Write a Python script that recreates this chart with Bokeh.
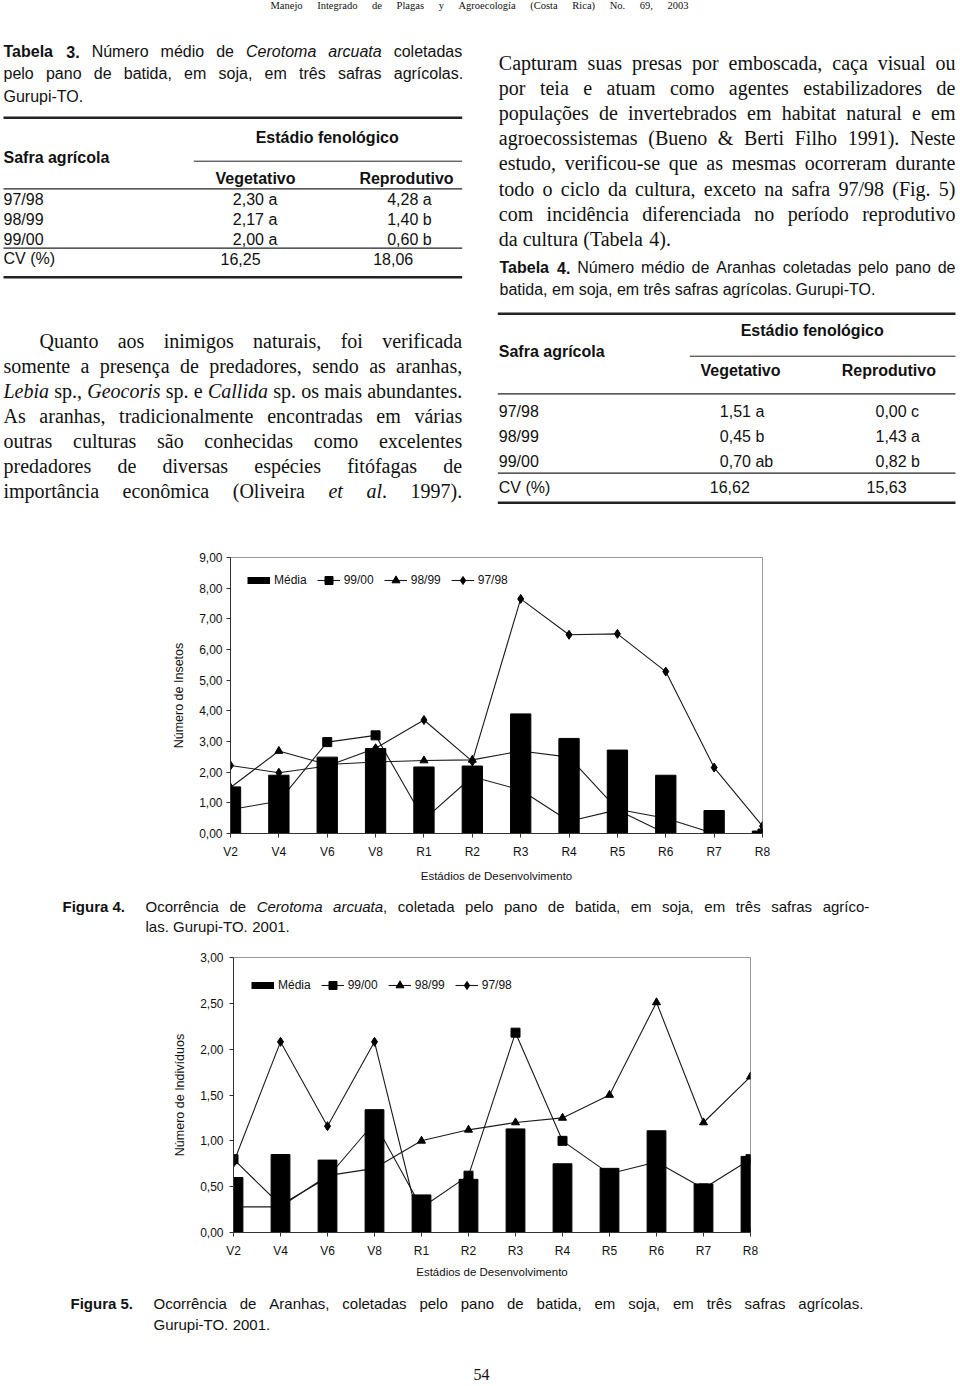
import unicodedata
from bokeh.plotting import figure
from bokeh.models import ColumnDataSource, Range1d, FixedTicker, Legend, LegendItem
from bokeh.layouts import column
from bokeh.core.properties import value
from bokeh.embed import file_html
from bokeh.resources import INLINE

# ---------------- chart data ----------------
stages = ["V2", "V4", "V6", "V8", "R1", "R2", "R3", "R4", "R5", "R6", "R7", "R8"]
series_names = ["Média", "99/00", "98/99", "97/98"]

# Figura 4 - Cerotoma arcuata (Número de Insetos)
ins_media = [1.52, 1.90, 2.49, 2.77, 2.17, 2.20, 3.90, 3.10, 2.72, 1.90, 0.75, 0.08]
ins_9900 = [0.78, 1.05, 2.98, 3.20, 0.45, 1.85, 1.42, 0.40, 0.77, 0.00, 0.00, 0.00]
ins_9899 = [1.50, 2.69, 2.25, 2.33, 2.38, 2.40, 2.69, 2.49, 0.79, 0.50, 0.00, 0.00]
ins_9798 = [2.22, 1.98, 2.20, 2.78, 3.70, 2.35, 7.65, 6.48, 6.51, 5.28, 2.15, 0.24]
ins_yticks = [0, 1, 2, 3, 4, 5, 6, 7, 8, 9]
ins_ylabels = ["0,00", "1,00", "2,00", "3,00", "4,00", "5,00", "6,00", "7,00", "8,00", "9,00"]

# Figura 5 - Aranhas (Número de Indivíduos)
ara_media = [0.60, 0.85, 0.79, 1.34, 0.41, 0.58, 1.13, 0.75, 0.70, 1.11, 0.53, 0.83]
ara_9900 = [0.80, 0.30, 0.60, 1.20, 0.27, 0.62, 2.18, 1.00, 0.64, 0.77, 0.48, 0.80]
ara_9899 = [0.28, 0.28, 0.62, 0.70, 1.00, 1.12, 1.20, 1.25, 1.50, 2.51, 1.20, 1.70]
ara_9798 = [0.76, 2.08, 1.16, 2.08, 0.00, 0.00, 0.00, 0.00, 0.00, 0.00, 0.00, 0.00]
ara_yticks = [0, 0.5, 1.0, 1.5, 2.0, 2.5, 3.0]
ara_ylabels = ["0,00", "0,50", "1,00", "1,50", "2,00", "2,50", "3,00"]

# ---------------- table data ----------------
t3_safras = ["97/98", "98/99", "99/00"]
t3_veg = ["2,30 a", "2,17 a", "2,00 a"]
t3_rep = ["4,28 a", "1,40 b", "0,60 b"]
t3_cv = ["16,25", "18,06"]

t4_safras = ["97/98", "98/99", "99/00"]
t4_veg = ["1,51 a", "0,45 b", "0,70 ab"]
t4_rep = ["0,00 c", "1,43 a", "0,82  b"]
t4_cv = ["16,62", "15,63"]

# ---------------- page text ----------------
header_text = "Manejo Integrado de Plagas y Agroecología (Costa Rica) No. 69, 2003"
tab3_caption = ["*Tabela* *3.* Número médio de _Cerotoma_ _arcuata_ coletadas",
                "pelo pano de batida, em soja, em três safras agrícolas.",
                "Gurupi-TO."]
left_par = ["Quanto aos inimigos naturais, foi verificada",
            "somente a presença de predadores, sendo as aranhas,",
            "_Lebia_ sp., _Geocoris_ sp. e _Callida_ sp. os mais abundantes.",
            "As aranhas, tradicionalmente encontradas em várias",
            "outras culturas são conhecidas como excelentes",
            "predadores de diversas espécies fitófagas de",
            "importância econômica (Oliveira _et_ _al_. 1997)."]
right_par = ["Capturam suas presas por emboscada, caça visual ou",
             "por teia e atuam como agentes estabilizadores de",
             "populações de invertebrados em habitat natural e em",
             "agroecossistemas (Bueno & Berti Filho 1991). Neste",
             "estudo, verificou-se que as mesmas ocorreram durante",
             "todo o ciclo da cultura, exceto na safra 97/98 (Fig. 5)",
             "com incidência diferenciada no período reprodutivo",
             "da cultura (Tabela 4)."]
tab4_caption = ["*Tabela* *4.* Número médio de Aranhas coletadas pelo pano de",
                "batida, em soja, em três safras agrícolas. Gurupi-TO."]
fig4_label = "Figura 4."
fig4_caption = ["Ocorrência de _Cerotoma_ _arcuata_, coletada pelo pano de batida, em soja, em três safras agríco-",
                "las. Gurupi-TO. 2001."]
fig5_label = "Figura 5."
fig5_caption = ["Ocorrência de Aranhas, coletadas pelo pano de batida, em soja, em três safras agrícolas.",
                "Gurupi-TO. 2001."]
page_number = "54"

# ---------------- font metrics (Helvetica / Times compatible) ----------------
LOW = "abcdefghijklmnopqrstuvwxyz"
UP = "ABCDEFGHIJKLMNOPQRSTUVWXYZ"


def mk(lower, upper, digit, punct):
    d = dict(zip(LOW, lower))
    d.update(zip(UP, upper))
    d.update({c: digit for c in "0123456789"})
    d.update(punct)
    return d


HELV = mk([556, 556, 500, 556, 556, 278, 556, 556, 222, 222, 500, 222, 833, 556, 556, 556, 556, 333, 500, 278, 556, 500, 722, 500, 500, 500],
          [667, 667, 722, 722, 667, 611, 778, 722, 278, 500, 667, 556, 833, 722, 778, 667, 778, 722, 667, 611, 722, 667, 944, 667, 667, 611],
          556, {" ": 278, ".": 278, ",": 278, "-": 333, "/": 278, "(": 333, ")": 333, "%": 889, "&": 667, ":": 278, ";": 278})
HELVB = mk([556, 611, 556, 611, 556, 333, 611, 611, 278, 278, 556, 278, 889, 611, 611, 611, 611, 389, 556, 333, 611, 556, 778, 556, 556, 500],
           [722, 722, 722, 722, 667, 611, 778, 722, 278, 556, 722, 611, 833, 722, 778, 667, 778, 722, 667, 611, 722, 667, 944, 667, 667, 611],
           556, {" ": 278, ".": 278, ",": 278, "-": 333, "/": 278, "(": 333, ")": 333, "%": 889, "&": 722, ":": 333, ";": 333})
TIMES = mk([444, 500, 444, 500, 444, 333, 500, 500, 278, 278, 500, 278, 778, 500, 500, 500, 500, 333, 389, 278, 500, 500, 722, 500, 500, 444],
           [722, 667, 667, 722, 611, 556, 722, 722, 333, 389, 722, 611, 889, 722, 722, 556, 722, 667, 556, 611, 722, 722, 944, 722, 722, 611],
           500, {" ": 250, ".": 250, ",": 250, "-": 333, "/": 278, "(": 333, ")": 333, "%": 833, "&": 778, ":": 278, ";": 278})
TIMESI = mk([500, 500, 444, 500, 444, 278, 500, 500, 278, 278, 444, 278, 722, 500, 500, 500, 500, 389, 389, 278, 500, 444, 667, 444, 444, 389],
            [611, 611, 667, 722, 611, 611, 722, 722, 333, 444, 667, 556, 833, 667, 722, 611, 722, 611, 500, 556, 722, 611, 833, 611, 556, 556],
            500, {" ": 250, ".": 250, ",": 250, "-": 333, "/": 278, "(": 333, ")": 333, "%": 833, "&": 778, ":": 333, ";": 333})

FONTS = {
    "sans": ("Liberation Sans", "normal", HELV),
    "sansb": ("Liberation Sans", "bold", HELVB),
    "sansi": ("Liberation Sans", "italic", HELV),
    "serif": ("Liberation Serif", "normal", TIMES),
    "serifb": ("Liberation Serif", "bold", TIMES),
    "serifi": ("Liberation Serif", "italic", TIMESI),
}

PAGE_W = 956


def wwidth(s, fk, size):
    table = FONTS[fk][2]
    tot = 0
    for ch in s:
        base = unicodedata.normalize("NFD", ch)[0]
        tot += table.get(base, 520)
    return tot * size / 1000.0


def parse_word(w, base):
    pieces = []
    for mark, suffix in (("_", "i"), ("*", "b")):
        if w.startswith(mark):
            j = w.find(mark, 1)
            inner, rest = w[1:j], w[j + 1:]
            pieces.append((inner, base + suffix))
            if rest:
                pieces.append((rest, base))
            return pieces
    return [(w, base)]


class Store:
    def __init__(self):
        self.groups = {}
        self.rules = {}

    def add(self, x, y, s, fk, size, align="left"):
        g = self.groups.setdefault((fk, size, align), {"x": [], "y": [], "t": []})
        g["x"].append(x)
        g["y"].append(y)
        g["t"].append(s)

    def rule(self, x0, x1, y, w):
        g = self.rules.setdefault(w, {"x0": [], "x1": [], "y": []})
        g["x0"].append(x0)
        g["x1"].append(x1)
        g["y"].append(y)

    def line(self, text, base, size, x0, x1, y, justify=True):
        words = [parse_word(w, base) for w in text.split(" ")]
        while True:
            widths = [sum(wwidth(t, fk, size) for t, fk in w) for w in words]
            space = wwidth(" ", base, size)
            if justify and len(words) > 1:
                gap = (x1 - x0 - sum(widths)) / (len(words) - 1)
                if gap < 0.55 * space:
                    size -= 0.25
                    continue
            else:
                gap = space
            break
        x = x0
        for w, wd in zip(words, widths):
            px = x
            for t, fk in w:
                self.add(px, y, t, fk, size)
                px += wwidth(t, fk, size)
            x += wd + gap

    def flush(self, p):
        for (fk, size, align), d in self.groups.items():
            fam, style, _ = FONTS[fk]
            src = ColumnDataSource(dict(x=d["x"], y=d["y"], text=d["t"]))
            p.text(x="x", y="y", text="text", source=src,
                   text_font=value(fam), text_font_style=value(style),
                   text_font_size=value("%.2fpx" % size), text_align=value(align),
                   text_baseline=value("middle"), text_color=value("#111111"))
        for w, d in self.rules.items():
            src = ColumnDataSource(dict(x0=d["x0"], x1=d["x1"], y=d["y"]))
            p.segment(x0="x0", y0="y", x1="x1", y1="y", source=src,
                      line_color="#222222", line_width=w)


def text_fig(y_top, y_bot):
    p = figure(width=PAGE_W, height=int(round(y_bot - y_top)),
               x_range=Range1d(0, PAGE_W), y_range=Range1d(y_bot, y_top),
               output_backend="svg", toolbar_location=None,
               x_axis_location=None, y_axis_location=None, min_border=0,
               frame_align=False)
    p.grid.visible = False
    p.outline_line_color = None
    p.background_fill_color = "white"
    p.border_fill_color = "white"
    return p


# ---------------- top text block ----------------
figA = text_fig(0, 540)
A = Store()
A.line(header_text, "serif", 10.5, 270, 688, 5, justify=True)

# Tabela 3 caption
A.line(tab3_caption[0], "sans", 16, 3, 461.7, 51)
A.line(tab3_caption[1], "sans", 16, 3, 461.7, 73)
A.line(tab3_caption[2], "sans", 16, 3, 461.7, 96, justify=False)

# Tabela 3
A.rule(3, 461.7, 117.3, 2.5)
A.add(326.7, 136.7, "Estádio fenológico", "sansb", 16, "center")
A.add(3, 156.7, "Safra agrícola", "sansb", 16)
A.rule(193.3, 461.7, 160.7, 1.0)
A.add(255, 178.3, "Vegetativo", "sansb", 16, "center")
A.add(406, 178.3, "Reprodutivo", "sansb", 16, "center")
A.rule(3, 461.7, 188.3, 1.2)
for i, yy in enumerate([199.3, 219.0, 239.0]):
    A.add(3, yy, t3_safras[i], "sans", 16)
    A.add(232.3, yy, t3_veg[i], "sans", 16)
    A.add(386.7, yy, t3_rep[i], "sans", 16)
A.rule(3, 461.7, 247.7, 1.2)
A.add(3, 258.3, "CV (%)", "sans", 16)
A.add(220, 258.3, t3_cv[0], "sans", 16)
A.add(372.7, 258.3, t3_cv[1], "sans", 16)
A.rule(3, 461.7, 276.7, 2.5)

# left paragraph
for i, ln in enumerate(left_par):
    A.line(ln, "serif", 20, 39 if i == 0 else 3, 461.7, 340 + 25 * i)

# right paragraph
for i, ln in enumerate(right_par):
    A.line(ln, "serif", 20, 498.3, 955, 62 + 25.2 * i, justify=(i < len(right_par) - 1))

# Tabela 4 caption
A.line(tab4_caption[0], "sans", 16, 499, 955, 267)
A.line(tab4_caption[1], "sans", 16, 499, 955, 289, justify=False)

# Tabela 4
A.rule(497.3, 955, 313.3, 2.5)
A.add(811.7, 330, "Estádio fenológico", "sansb", 16, "center")
A.add(498.3, 350.7, "Safra agrícola", "sansb", 16)
A.rule(689.3, 955, 355.7, 1.0)
A.add(740, 370, "Vegetativo", "sansb", 16, "center")
A.add(888.3, 370, "Reprodutivo", "sansb", 16, "center")
A.rule(497.3, 955, 393.3, 1.2)
for i, yy in enumerate([410.7, 436.0, 461.0]):
    A.add(498.3, yy, t4_safras[i], "sans", 16)
    A.add(719.3, yy, t4_veg[i], "sans", 16)
    A.add(875, yy, t4_rep[i], "sans", 16)
A.rule(497.3, 955, 472.7, 1.2)
A.add(498.3, 486.7, "CV (%)", "sans", 16)
A.add(709.3, 486.7, t4_cv[0], "sans", 16)
A.add(866, 486.7, t4_cv[1], "sans", 16)
A.rule(497.3, 955, 502.3, 2.5)
A.flush(figA)


# ---------------- charts ----------------
def chart(height, borders, media, s9900, s9899, s9798, yticks, ylabels, ylabel,
          bar_w, leg_loc, ytick_standoff, xlabel_standoff):
    bl, br, bt, bb = borders
    xs = list(range(len(stages)))
    p = figure(width=PAGE_W, height=height,
               x_range=Range1d(xs[0], xs[-1]), y_range=Range1d(yticks[0], yticks[-1]),
               output_backend="svg", toolbar_location=None, frame_align=False,
               min_border_left=bl, min_border_right=br, min_border_top=bt, min_border_bottom=bb)
    p.grid.visible = False
    p.background_fill_color = "white"
    p.border_fill_color = "white"
    p.outline_line_color = "#9a9a9a"
    p.outline_line_width = 1

    src = ColumnDataSource(dict(x=xs, media=media, s9900=s9900, s9899=s9899, s9798=s9798))
    lc = "#1a1a1a"
    l1 = p.line("x", "s9900", source=src, line_color=lc, line_width=1.1)
    m1 = p.scatter("x", "s9900", source=src, marker="square", size=9, color="black")
    l2 = p.line("x", "s9899", source=src, line_color=lc, line_width=1.1)
    m2 = p.scatter("x", "s9899", source=src, marker="triangle", size=8, color="black")
    l3 = p.line("x", "s9798", source=src, line_color=lc, line_width=1.1)
    m3 = p.scatter("x", "s9798", source=src, marker="diamond", size=9, color="black")
    p.vbar(x="x", top="media", width=bar_w, source=src, color="black")
    # legend swatch for "Média": a one-point line (draws nothing in the plot)
    swatch = p.line(x=xs[:1], y=media[:1], line_color="black", line_width=7)

    legend = Legend(items=[LegendItem(label=series_names[0], renderers=[swatch]),
                           LegendItem(label=series_names[1], renderers=[l1, m1]),
                           LegendItem(label=series_names[2], renderers=[l2, m2]),
                           LegendItem(label=series_names[3], renderers=[l3, m3])],
                    orientation="horizontal", location=leg_loc,
                    glyph_width=23, glyph_height=20, label_standoff=4, spacing=10,
                    padding=0, margin=0, border_line_alpha=0, background_fill_alpha=0,
                    label_text_font="Liberation Sans", label_text_font_size="12px",
                    label_text_color="#111111")
    p.add_layout(legend)

    p.xaxis.ticker = FixedTicker(ticks=xs)
    p.xaxis.major_label_overrides = {x: s for x, s in zip(xs, stages)}
    p.yaxis.ticker = FixedTicker(ticks=yticks)
    p.yaxis.major_label_overrides = {t: s for t, s in zip(yticks, ylabels)}
    p.xaxis.axis_label = "Estádios de Desenvolvimento"
    p.yaxis.axis_label = ylabel
    for ax in (p.xaxis, p.yaxis):
        ax.axis_line_color = "#333333"
        ax.major_tick_line_color = "#333333"
        ax.major_tick_in = 0
        ax.major_tick_out = 4
        ax.minor_tick_line_color = None
        ax.major_label_text_font = "Liberation Sans"
        ax.major_label_text_font_size = "12px"
        ax.major_label_text_color = "#111111"
        ax.axis_label_text_font = "Liberation Sans"
        ax.axis_label_text_font_style = "normal"
        ax.axis_label_text_color = "#111111"
    p.xaxis.axis_label_text_font_size = "11.5px"
    p.yaxis.axis_label_text_font_size = "12.5px"
    p.xaxis.major_label_standoff = 7
    p.xaxis.axis_label_standoff = xlabel_standoff
    p.yaxis.major_label_standoff = ytick_standoff
    p.yaxis.axis_label_standoff = 10
    return p


figB = chart(345, (230, PAGE_W - 762, 17, 52), ins_media, ins_9900, ins_9899, ins_9798,
             ins_yticks, ins_ylabels, "Número de Insetos", 0.42, (17, 243), 4, 8)

figC = text_fig(885, 940)
C = Store()
C.add(62, 906, fig4_label, "sansb", 15)
C.line(fig4_caption[0], "sans", 15, 145, 868, 906)
C.line(fig4_caption[1], "sans", 15, 145, 868, 926, justify=False)
C.flush(figC)

figD = chart(345, (233, PAGE_W - 750, 17, 53), ara_media, ara_9900, ara_9899, ara_9798,
             ara_yticks, ara_ylabels, "Número de Indivíduos", 0.40, (18, 237), 6, 5)

figE = text_fig(1285, 1382)
E = Store()
E.add(70, 1303, fig5_label, "sansb", 15)
E.line(fig5_caption[0], "sans", 15, 153, 862, 1303)
E.line(fig5_caption[1], "sans", 15, 153, 862, 1324, justify=False)
E.add(481, 1374, page_number, "serif", 16, "center")
E.flush(figE)

layout = column(figA, figB, figC, figD, figE, spacing=0)

with open("out.html", "w", encoding="utf-8") as f:
    f.write(file_html(layout, INLINE, "Manejo Integrado de Plagas"))
